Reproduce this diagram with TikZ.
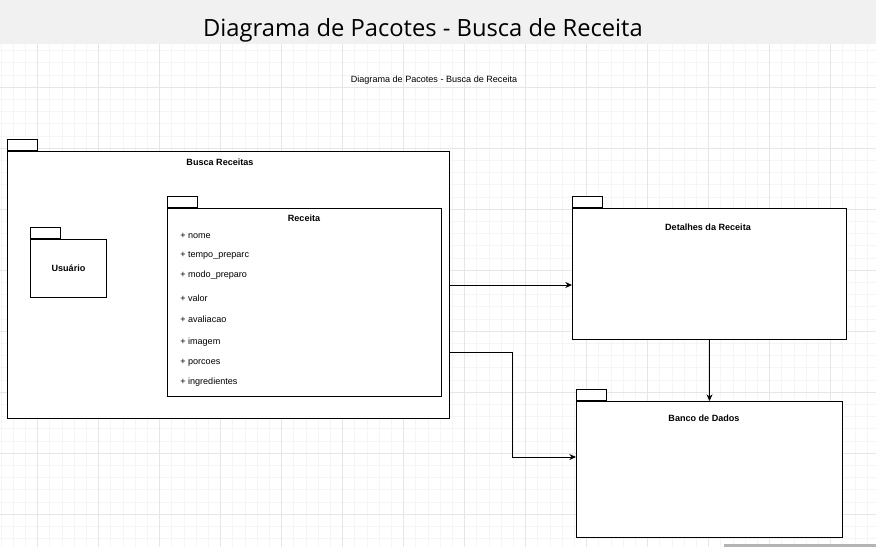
\documentclass[tikz,border=0pt]{standalone}
\usepackage{fontspec}
\setmainfont{Liberation Sans}
\newfontfamily\titlefont{Open Sans}
\usetikzlibrary{positioning, arrows.meta}
\definecolor{bandgray}{HTML}{F1F1F1}
\definecolor{gridminor}{HTML}{F5F5F5}
\definecolor{gridmajor}{HTML}{E6E6E6}
\definecolor{scrollgray}{HTML}{B4B4B4}

\begin{document}
\begin{tikzpicture}[x=0.75pt, y=-0.75pt,
  pkg/.style={draw, line width=0.75pt, fill=white, anchor=north west, inner sep=0pt},
  tab/.style={draw, line width=0.75pt, fill=white, anchor=south west, inner sep=0pt, minimum width=22.5pt, minimum height=8.25pt},
  pkgname/.style={font=\fontsize{6.8}{8}\selectfont\bfseries, inner sep=0pt},
  attr/.style={font=\fontsize{6.8}{8}\selectfont, anchor=west, inner sep=0pt},
  dep/.style={draw, line width=0.75pt, -{Stealth[length=5pt, width=4.5pt]}}]
\useasboundingbox (0,0) rectangle (876,547);
\fill[white] (0,0) rectangle (876,547);
\foreach \i in {0,...,71} \draw[gridminor, line width=0.75pt] ({1.1+12.2*\i},44) -- ({1.1+12.2*\i},547);
\foreach \i in {4,...,44} \draw[gridminor, line width=0.75pt] (0,{1.9+12.2*\i}) -- (876,{1.9+12.2*\i});
\foreach \j in {0,...,13} \draw[gridmajor, line width=0.75pt] ({37.7+61*\j},44) -- ({37.7+61*\j},547);
\foreach \j in {0,...,7} \draw[gridmajor, line width=0.75pt] (0,{87.3+61*\j}) -- (876,{87.3+61*\j});
\fill[bandgray] (0,0) rectangle (876,44);
\draw[scrollgray, line width=2.25pt] (724,545.5) -- (876,545.5);

\node[font=\titlefont\fontsize{17.8}{21}\selectfont, anchor=base, inner sep=0pt] (titulo) at (423,36) {Diagrama de Pacotes - Busca de Receita};
\node[font=\fontsize{6.8}{8}\selectfont, anchor=base, inner sep=0pt] (subtitulo) at (434,82) {Diagrama de Pacotes - Busca de Receita};

\node[pkg, minimum width=331.5pt, minimum height=200.25pt] (busca) at (7,151) {};
\node[tab] (buscatab) at (busca.north west) {};
\node[pkgname] (buscanome) at (220,162) {Busca Receitas};

\node[pkg, minimum width=57pt, minimum height=43.5pt] (usuario) at (30,239) {};
\node[tab] (usuariotab) at (usuario.north west) {};
\node[pkgname] (usuarionome) at (usuario.center) {Usuário};

\node[pkg, minimum width=205.5pt, minimum height=141pt] (receita) at (167,208) {};
\node[tab] (receitatab) at (receita.north west) {};
\node[pkgname] (receitanome) at (304,218) {Receita};
\foreach \t/\y [count=\k] in {nome/235.5, tempo\_preparc/255.5, modo\_preparo/275.5, valor/298.5, avaliacao/319.5, imagem/342.5, porcoes/362.5, ingredientes/382.5}
  \node[attr] (atributo\k) at (180,\y) {+ \t};

\node[pkg, minimum width=205.5pt, minimum height=98.25pt] (detalhes) at (572,208) {};
\node[tab] (detalhestab) at (detalhes.north west) {};
\node[pkgname] (detalhesnome) at (708,227) {Detalhes da Receita};

\node[pkg, minimum width=199.5pt, minimum height=102pt] (banco) at (576,401) {};
\node[tab] (bancotab) at (banco.north west) {};
\node[pkgname] (banconome) at (704,418) {Banco de Dados};

\coordinate (desvio) at (512,352);
\coordinate (dobra) at (512,457);
\draw[dep] (busca.east) -- (busca.east -| detalhes.west);
\draw[dep] (busca.east |- desvio) -| (dobra) -- (dobra -| banco.west);
\draw[dep] (detalhes.south) -- (detalhes.south |- banco.north);
\end{tikzpicture}
\end{document}
